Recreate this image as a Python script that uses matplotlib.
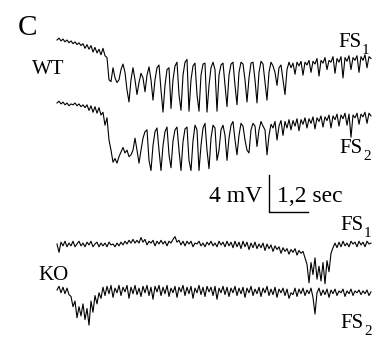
import numpy as np
import matplotlib
matplotlib.use("Agg")
import matplotlib.pyplot as plt

# ---- data (mV relative to each trace's own start, sampled every dt seconds) ----
dt = 2 / 32.5  # seconds per sample

wt_fs1 = [0.0, 0.2, -0.1, 0.1, -0.2, 0.0, -0.3, -0.1, -0.4, -0.2,
          -0.5, -0.3, -0.6, -0.4, -0.9, -0.5, -1.0, -0.6, -1.3, -0.8,
          -1.4, -1.0, -1.6, -0.9, -1.7, -1.9, -4.3, -4.5, -3.0, -4.1,
          -4.6, -4.3, -3.2, -2.6, -3.5, -5.4, -6.7, -4.3, -3.0, -4.3,
          -5.9, -4.6, -3.6, -4.1, -5.6, -3.8, -2.9, -4.3, -6.5, -4.3,
          -3.0, -2.7, -5.4, -7.8, -4.9, -3.2, -3.0, -7.4, -4.3, -2.8,
          -2.4, -5.9, -7.6, -3.8, -2.4, -2.1, -7.7, -4.3, -2.8, -2.5,
          -5.9, -7.7, -3.8, -2.6, -2.5, -7.8, -4.9, -3.0, -2.4, -3.2,
          -7.7, -3.8, -2.7, -2.5, -4.9, -7.2, -3.8, -2.6, -2.4, -4.9,
          -7.0, -3.5, -2.4, -2.6, -4.3, -6.7, -4.1, -2.5, -2.4, -4.3,
          -6.8, -3.5, -2.3, -2.6, -4.6, -6.5, -3.5, -2.4, -2.8, -3.5,
          -4.9, -3.0, -2.7, -4.3, -5.9, -3.2, -2.4, -3.0, -2.5, -3.7,
          -2.4, -2.8, -2.3, -3.8, -2.4, -2.7, -2.2, -3.5, -2.3, -2.6,
          -2.0, -3.9, -2.2, -2.5, -1.9, -3.2, -2.2, -2.4, -1.8, -3.6,
          -2.0, -2.4, -1.8, -4.1, -1.9, -2.3, -1.7, -3.2, -1.9, -2.2,
          -1.7, -3.5, -1.8, -2.2, -1.6, -3.0, -1.8, -2.0]

wt_fs2 = [0.0, 0.2, -0.1, 0.1, -0.2, 0.0, -0.3, -0.1, -0.2, 0.0,
          -0.3, -0.1, -0.4, -0.2, -0.5, -0.2, -0.8, -0.3, -1.0, -0.4,
          -1.1, -0.5, -1.3, -1.0, -2.4, -1.6, -4.0, -5.1, -6.4, -6.0,
          -6.5, -5.8, -5.3, -4.8, -5.4, -5.1, -5.8, -5.6, -5.1, -3.8,
          -5.1, -6.5, -5.1, -3.8, -3.1, -2.9, -6.2, -7.3, -4.6, -3.1,
          -2.7, -5.1, -7.3, -4.6, -3.1, -2.6, -5.6, -7.0, -4.1, -2.9,
          -2.6, -5.1, -7.3, -4.2, -2.8, -2.6, -6.2, -7.3, -4.1, -2.4,
          -2.9, -7.3, -4.6, -2.7, -2.2, -5.1, -7.1, -3.8, -2.4, -2.7,
          -6.2, -5.1, -2.9, -2.4, -3.5, -6.2, -3.8, -2.4, -2.0, -4.0,
          -5.6, -3.5, -2.2, -2.5, -4.0, -5.1, -5.4, -2.9, -2.2, -2.5,
          -4.7, -2.9, -2.0, -2.5, -2.9, -5.6, -3.5, -2.3, -2.7, -2.0,
          -4.0, -2.5, -1.9, -3.5, -2.0, -2.7, -1.8, -2.9, -1.9, -2.5,
          -1.7, -3.0, -1.8, -2.3, -1.6, -2.7, -1.7, -2.2, -1.5, -2.8,
          -1.6, -2.0, -1.4, -2.6, -1.5, -1.9, -1.3, -2.7, -1.4, -1.8,
          -1.2, -2.5, -1.3, -1.7, -1.1, -2.4, -1.2, -3.7, -1.3, -1.6,
          -1.1, -2.3, -1.2, -1.5, -1.0, -2.2, -1.1, -1.4]

ko_fs1 = [0.0, -0.9, 0.2, -0.2, 0.3, -0.3, 0.1, -0.2, 0.3, -0.3,
          0.0, 0.3, -0.2, 0.1, -0.3, 0.2, -0.1, 0.3, -0.3, 0.0,
          0.2, -0.3, 0.1, -0.2, 0.1, -0.3, 0.2, -0.1, 0.0, -0.3,
          0.1, -0.2, 0.2, -0.1, 0.3, 0.0, 0.4, 0.1, 0.5, 0.1,
          0.4, 0.1, 0.7, 0.2, 0.5, -0.1, 0.3, 0.1, 0.4, -0.2,
          0.3, 0.0, 0.4, 0.0, 0.3, -0.2, 0.3, 0.1, 0.5, 0.8,
          0.2, 0.4, -0.1, 0.3, -0.2, 0.3, 0.0, 0.3, -0.3, 0.1,
          0.0, 0.3, -0.2, 0.1, -0.3, 0.2, -0.1, 0.3, -0.2, 0.1,
          -0.3, 0.3, -0.1, 0.2, -0.3, 0.3, -0.2, 0.2, -0.4, 0.3,
          -0.3, 0.2, -0.5, 0.3, -0.3, 0.2, -0.6, 0.1, -0.4, 0.2,
          -0.5, 0.0, -0.4, 0.1, -0.7, 0.0, -0.5, -0.1, -0.8, -0.2,
          -0.6, -0.3, -1.0, -0.4, -0.8, -0.5, -1.1, -0.6, -0.9, -0.5,
          -1.2, -0.7, -1.0, -0.8, -1.5, -2.2, -4.2, -2.0, -3.3, -1.5,
          -3.8, -2.4, -4.0, -2.0, -4.3, -1.8, -3.0, -1.0, -0.4, 0.1,
          -0.4, 0.2, -0.3, 0.3, -0.2, 0.1, -0.3, 0.3, 0.0, 0.2,
          -0.3, 0.3, -0.1, 0.2, -0.3, 0.3, 0.0, 0.1]

ko_fs2 = [0.0, 0.4, -0.3, 0.3, -0.4, 0.2, -0.5, -0.7, -1.8, -1.2,
          -3.0, -1.8, -2.8, -1.5, -3.2, -2.0, -3.8, -1.2, -2.4, -0.6,
          -1.5, -0.3, -0.9, 0.3,
          -0.6, 0.4, -0.4, 0.5, -0.8, 0.2, -0.3, 0.5, -0.6, 0.3,
          -0.2, 0.5, -0.9, 0.3, -0.4, 0.5, -0.5, 0.2, -0.7, 0.4,
          -0.3, 0.5, -0.6, 0.3, -1.0, 0.4, -0.2, 0.5, -0.6, 0.3,
          -0.4, 0.5, -0.7, 0.2, -0.3, 0.4, -0.8, 0.3, -0.2, 0.5,
          -0.6, 0.3, -0.4, 0.4, -0.9, 0.2, -0.3, 0.5, -0.5, 0.3,
          -0.7, 0.4, -0.2, 0.3, -0.6, 0.4, -1.0, 0.2, -0.3, 0.4,
          -0.5, 0.3, -0.7, 0.2, -0.3, 0.4, -0.6, 0.2, -0.4, 0.3,
          -0.8, 0.2, -0.3, 0.4, -0.6, 0.1, -0.4, 0.3, -0.7, 0.2,
          -0.3, 0.4, -0.6, 0.1, -0.5, 0.3, -0.8, 0.1, -0.3, 0.2,
          -0.6, 0.1, -0.9, -0.3, -0.5, 0.2, -0.7, 0.1, -0.4, 0.2,
          -0.6, 0.0, -0.4, 0.2, -0.8, -2.6, -0.3, 0.2, -0.6, 0.0,
          -0.5, 0.1, -0.8, 0.0, -0.4, 0.1, -0.6, -0.1, -0.3, 0.1,
          -0.7, -0.1, -0.4, 0.1, -0.6, -0.1, -0.3, 0.0, -0.5, -0.1,
          -0.4, 0.0, -0.6, -0.2]

traces = [wt_fs1, wt_fs2, ko_fs1, ko_fs2]

# ---- layout ----
W, H = 372, 339
PX_PER_S = 32.5
PX_PER_MV = 9.25
X0_PX = 57
offsets_px = [40, 103, 244, 290]

fig = plt.figure(figsize=(W / 100, H / 100), dpi=100)
ax = fig.add_axes([0, 0, 1, 1])
ax.set_xlim(-X0_PX / PX_PER_S, (W - X0_PX) / PX_PER_S)
ax.set_ylim(-H / PX_PER_MV, 0)
ax.axis("off")

for vals, off in zip(traces, offsets_px):
    v = np.array(vals)
    t = np.arange(len(v)) * dt
    ax.plot(t, v - off / PX_PER_MV, color="black", lw=0.8)

# scale bar: 4 mV, 1.2 s
sb_t = (269 - X0_PX) / PX_PER_S
sb_y = -212 / PX_PER_MV
ax.plot([sb_t, sb_t, sb_t + 1.2], [sb_y + 4, sb_y, sb_y], color="black", lw=1.0)

serif = ["Liberation Serif", "DejaVu Serif"]

def txt(x, y, s, size):
    fig.text(x / W, 1 - y / H, s, fontsize=size, family=serif, va="baseline", ha="left")

txt(18, 35, "C", 21)
txt(32, 74, "WT", 15)
txt(38, 280, "KO", 15)
txt(338, 47, "FS", 15)
txt(362, 54, "1", 11)
txt(339, 153, "FS", 15)
txt(363, 160, "2", 11)
txt(340, 230, "FS", 15)
txt(364, 237, "1", 11)
txt(340, 328, "FS", 15)
txt(364, 335, "2", 11)
txt(209, 202, "4 mV", 17)
txt(277, 202, "1,2 sec", 17)

fig.savefig("out.png", dpi=100)
